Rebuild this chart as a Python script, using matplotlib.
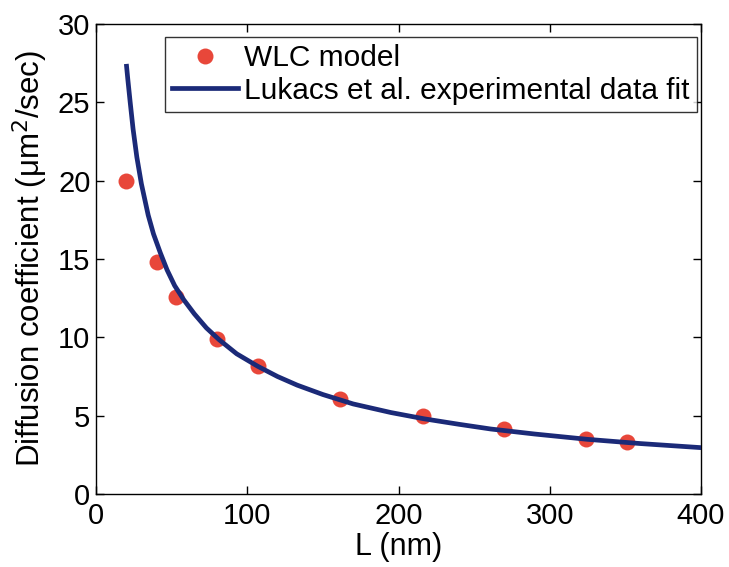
import matplotlib
matplotlib.use("Agg")
import matplotlib.pyplot as plt

plt.rcParams['font.family'] = ['Liberation Sans', 'DejaVu Sans']

# WLC model results
L_wlc = [20, 40, 53, 80, 107, 161, 216, 270, 324, 351]
D_wlc = [20.0, 14.8, 12.6, 9.9, 8.15, 6.05, 4.95, 4.13, 3.54, 3.32]

# Lukacs et al. fit, sampled along the curve
L_fit = [20.2, 21, 22.6, 24.5, 27, 30, 34.5, 38, 42.5, 47, 52, 58, 65, 73, 81.4,
         93, 107, 120, 133, 150, 170, 195, 217, 240, 261, 290, 325, 360, 400]
D_fit = [27.3, 26.5, 25.0, 23.3, 21.5, 19.8, 17.8, 16.6, 15.4, 14.3, 13.3, 12.4,
         11.5, 10.6, 9.85, 8.95, 8.15, 7.5, 6.95, 6.35, 5.75, 5.2, 4.8, 4.45, 4.15,
         3.83, 3.49, 3.22, 2.96]

x_ticks = [0, 100, 200, 300, 400]
y_ticks = [0, 5, 10, 15, 20, 25, 30]

fig = plt.figure(figsize=(7.29, 5.67), dpi=100)
ax = fig.add_axes([0.1317, 0.1287, 0.8299, 0.829])

ax.plot(L_wlc, D_wlc, 'o', color='#e8473a', markersize=11.5, markeredgewidth=0,
        label='WLC model', zorder=2)
ax.plot(L_fit, D_fit, '-', color='#1b2a78', linewidth=3.4,
        label='Lukacs et al. experimental data fit', zorder=3)

ax.set_xlim(0, 400)
ax.set_ylim(0, 30)
ax.set_xticks(x_ticks)
ax.set_yticks(y_ticks)
ax.tick_params(direction='in', length=6, width=1, top=True, right=True,
               labelsize=21)
ax.tick_params(axis='x', pad=6)
ax.tick_params(axis='y', pad=4)
for s in ax.spines.values():
    s.set_linewidth(1.0)
    s.set_color('black')

ax.set_xlabel('L (nm)', fontsize=22, labelpad=1)
ax.set_ylabel('Diffusion coefficient (\u03bcm$^2$/sec)', fontsize=22.5, labelpad=6)

leg = ax.legend(loc='upper right', bbox_to_anchor=(0.9934, 0.9723), fontsize=21.5,
                frameon=True, fancybox=False, edgecolor='black', borderpad=0.25,
                handlelength=2.2, handletextpad=0.2, labelspacing=0.15,
                borderaxespad=0)
leg.get_frame().set_linewidth(1.0)

plt.savefig('out.png', dpi=100)
